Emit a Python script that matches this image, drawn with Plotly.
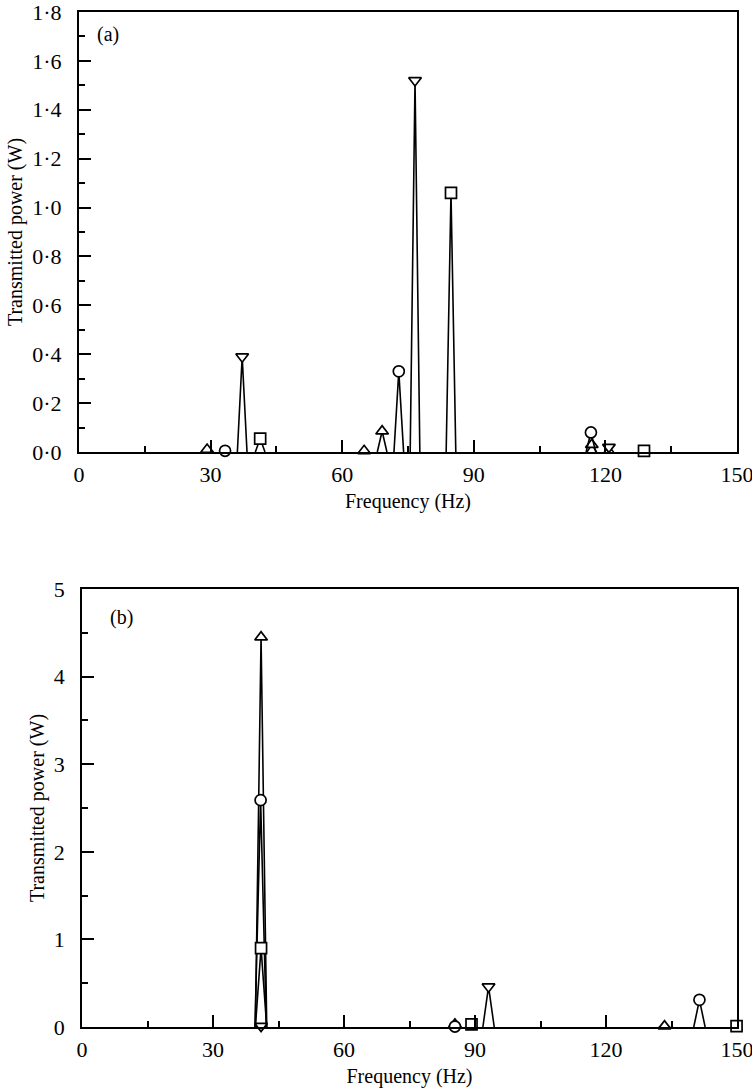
import plotly.graph_objects as go

# Panel (a): resonance peaks per marker series (frequency in Hz, transmitted power in W)
a_up_freq = [29.2, 65.0, 69.1, 116.9]
a_up_pow = [0.01, 0.005, 0.085, 0.03]
a_circ_freq = [33.3, 72.9, 116.7]
a_circ_pow = [0.005, 0.33, 0.08]
a_down_freq = [37.2, 76.6, 120.8]
a_down_pow = [0.39, 1.52, 0.02]
a_sq_freq = [41.3, 84.8, 128.8]
a_sq_pow = [0.055, 1.06, 0.005]

# Panel (b)
b_up_freq = [41.0, 85.4, 133.4]
b_up_pow = [4.45, 0.03, 0.01]
b_circ_freq = [40.9, 85.4, 141.4]
b_circ_pow = [2.59, 0.005, 0.31]
b_down_freq = [41.0, 93.1]
b_down_pow = [0.01, 0.46]
b_sq_freq = [41.0, 89.2, 149.9]
b_sq_pow = [0.9, 0.03, 0.01]

a_yticks = [0.0, 0.2, 0.4, 0.6, 0.8, 1.0, 1.2, 1.4, 1.6, 1.8]
a_yticktext = ["0·0", "0·2", "0·4", "0·6", "0·8", "1·0", "1·2", "1·4", "1·6", "1·8"]
b_yticks = [0, 1, 2, 3, 4, 5]
b_yticktext = ["0", "1", "2", "3", "4", "5"]
xticks = [0, 30, 60, 90, 120, 150]

FONT = "Liberation Serif"
HALF_A = 1.1
HALF_B = 1.3

fig = go.Figure()


def add_series(freqs, pows, symbol, half, xa, ya):
    xs, ys = [], []
    for f, p in zip(freqs, pows):
        xs += [f - half, f, f + half, None]
        ys += [0, p, 0, None]
    fig.add_trace(go.Scatter(x=xs, y=ys, mode="lines", xaxis=xa, yaxis=ya,
                             line=dict(color="black", width=1.6),
                             showlegend=False, hoverinfo="skip"))
    fig.add_trace(go.Scatter(x=freqs, y=pows, mode="markers", xaxis=xa, yaxis=ya,
                             cliponaxis=False,
                             marker=dict(symbol=symbol, size=11, color="white",
                                         line=dict(color="black", width=1.7)),
                             showlegend=False))


add_series(a_up_freq, a_up_pow, "triangle-up", HALF_A, "x", "y")
add_series(a_circ_freq, a_circ_pow, "circle", HALF_A, "x", "y")
add_series(a_down_freq, a_down_pow, "triangle-down", HALF_A, "x", "y")
add_series(a_sq_freq, a_sq_pow, "square", HALF_A, "x", "y")

add_series(b_up_freq, b_up_pow, "triangle-up", HALF_B, "x2", "y2")
add_series(b_circ_freq, b_circ_pow, "circle", HALF_B, "x2", "y2")
add_series(b_down_freq, b_down_pow, "triangle-down", HALF_B, "x2", "y2")
add_series(b_sq_freq, b_sq_pow, "square", HALF_B, "x2", "y2")

tickfont = dict(family=FONT, size=22, color="black")
titlefont = dict(family=FONT, size=20, color="black")

xcommon = dict(range=[0, 150], tickvals=xticks, ticks="inside", ticklen=12,
               tickwidth=1.5, tickcolor="black", showline=True, linecolor="black",
               linewidth=2, mirror=True, showgrid=False, zeroline=False,
               tickfont=tickfont, ticklabelstandoff=2, automargin=False,
               ticklabeloverflow="allow",
               minor=dict(tickvals=[15, 45, 75, 105, 135], ticks="inside",
                          ticklen=6, tickwidth=1.5, tickcolor="black", showgrid=False),
               title=dict(text="Frequency (Hz)", font=titlefont, standoff=8))
ycommon = dict(ticks="inside", ticklen=12, tickwidth=1.5, tickcolor="black",
               showline=True, linecolor="black", linewidth=2, mirror=True,
               showgrid=False, zeroline=False, tickfont=tickfont,
               ticklabelstandoff=11, automargin=False, ticklabeloverflow="allow",
               title=dict(text="Transmitted power (W)", font=titlefont, standoff=4))

fig.update_layout(
    width=752, height=1092,
    margin=dict(l=79, r=15, t=12, b=65),
    plot_bgcolor="white", paper_bgcolor="white",
    xaxis=dict(xcommon, domain=[0, 1], anchor="y"),
    yaxis=dict(ycommon, domain=[0.5665, 1], range=[0, 1.8], anchor="x",
               tickvals=a_yticks, ticktext=a_yticktext,
               minor=dict(tickvals=[0.1, 0.3, 0.5, 0.7, 0.9, 1.1, 1.3, 1.5, 1.7],
                          ticks="inside", ticklen=6, tickwidth=1.5,
                          tickcolor="black", showgrid=False)),
    xaxis2=dict(xcommon, domain=[0.0046, 1], anchor="y2"),
    yaxis2=dict(ycommon, domain=[0, 0.4315], range=[0, 5], anchor="x2",
                tickvals=b_yticks, ticktext=b_yticktext,
                minor=dict(tickvals=[0.5, 1.5, 2.5, 3.5, 4.5],
                           ticks="inside", ticklen=6, tickwidth=1.5,
                           tickcolor="black", showgrid=False)),
    annotations=[
        dict(text="(a)", xref="x domain", yref="y domain", x=0.025, y=0.95,
             xanchor="left", yanchor="middle", showarrow=False,
             font=dict(family=FONT, size=20, color="black")),
        dict(text="(b)", xref="x2 domain", yref="y2 domain", x=0.04, y=0.935,
             xanchor="left", yanchor="middle", showarrow=False,
             font=dict(family=FONT, size=20, color="black")),
    ],
)

fig.write_html("out.html")
